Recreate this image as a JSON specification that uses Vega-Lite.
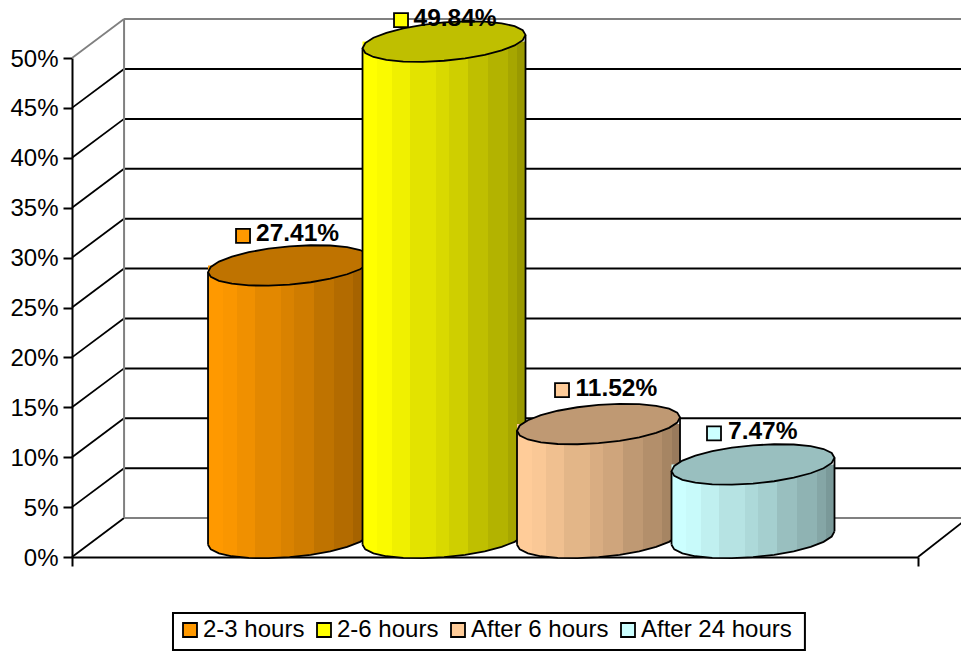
{
  "$schema": "https://vega.github.io/schema/vega-lite/v6.json",
  "width": 846,
  "height": 499,
  "autosize": "none",
  "padding": {"left": 72, "top": 58, "right": 43, "bottom": 94},
  "background": "white",
  "datasets": {
    "cylinders": [
      {"slot": 1, "period": "2-3 hours", "share": 0.2741},
      {"slot": 2, "period": "2-6 hours", "share": 0.4984},
      {"slot": 3, "period": "After 6 hours", "share": 0.1152},
      {"slot": 4, "period": "After 24 hours", "share": 0.0747}
    ],
    "levels": [
      {"level": 0, "back": 0.039, "front_edge": -0.408, "wall": -0.071, "far": 5.39},
      {"level": 0.05, "back": 0.089, "front_edge": -0.408, "wall": -0.071, "far": 5.39},
      {"level": 0.1, "back": 0.139, "front_edge": -0.408, "wall": -0.071, "far": 5.39},
      {"level": 0.15, "back": 0.189, "front_edge": -0.408, "wall": -0.071, "far": 5.39},
      {"level": 0.2, "back": 0.239, "front_edge": -0.408, "wall": -0.071, "far": 5.39},
      {"level": 0.25, "back": 0.289, "front_edge": -0.408, "wall": -0.071, "far": 5.39},
      {"level": 0.3, "back": 0.339, "front_edge": -0.408, "wall": -0.071, "far": 5.39},
      {"level": 0.35, "back": 0.389, "front_edge": -0.408, "wall": -0.071, "far": 5.39},
      {"level": 0.4, "back": 0.439, "front_edge": -0.408, "wall": -0.071, "far": 5.39},
      {"level": 0.45, "back": 0.489, "front_edge": -0.408, "wall": -0.071, "far": 5.39},
      {"level": 0.5, "back": 0.539, "front_edge": -0.408, "wall": -0.071, "far": 5.39}
    ],
    "corners": [
      {"low": 0.039, "high": 0.539, "wall": -0.071, "floor_front": 0, "floor_back": 0.039, "right_front": 5.068, "right_back": 5.39}
    ],
    "legend_frame": [
      {"left": 0.2457, "right": 4.336, "upper": -0.0561, "lower": -0.0932}
    ]
  },
  "config": {"font": "Liberation Sans", "view": {"stroke": null}},
  "layer": [
    {
      "data": {"name": "levels"},
      "mark": {"type": "rule", "strokeWidth": 1.8},
      "encoding": {
        "x": {"field": "front_edge", "type": "quantitative", "scale": {"domain": [-0.408, 5.068], "nice": false, "zero": false, "padding": 0},
          "axis": {"title": null, "values": [-0.408, 5.068], "labels": false, "grid": false, "domainColor": "black", "domainWidth": 2, "tickColor": "black", "tickWidth": 2, "tickSize": 9}},
        "x2": {"field": "wall"},
        "y": {"field": "level", "type": "quantitative", "scale": {"domain": [0, 0.5], "nice": false},
          "axis": {"title": null, "values": [0, 0.05, 0.1, 0.15, 0.2, 0.25, 0.3, 0.35, 0.4, 0.45, 0.5], "format": ".0%", "grid": false, "domainColor": "black", "domainWidth": 2, "tickColor": "black", "tickWidth": 2, "tickSize": 9, "labelColor": "black", "labelFontSize": 24, "labelPadding": 5, "labelOffset": 1, "labelFont": "Liberation Sans"}},
        "y2": {"field": "back"},
        "color": {"condition": {"test": "datum.level === 0.5", "value": "#808080"}, "value": "black"}
      }
    },
    {
      "data": {"name": "levels"},
      "mark": {"type": "rule", "strokeWidth": 2},
      "encoding": {
        "x": {"field": "wall", "type": "quantitative"},
        "x2": {"field": "far"},
        "y": {"field": "back", "type": "quantitative"},
        "color": {"condition": {"test": "datum.level === 0.5 || datum.level === 0", "value": "#808080"}, "value": "black"}
      }
    },
    {
      "data": {"name": "corners"},
      "mark": {"type": "rule", "strokeWidth": 2, "color": "#808080"},
      "encoding": {"x": {"field": "wall", "type": "quantitative"}, "y": {"field": "low", "type": "quantitative"}, "y2": {"field": "high"}}
    },
    {
      "data": {"name": "corners"},
      "mark": {"type": "rule", "strokeWidth": 1.8, "color": "black"},
      "encoding": {"x": {"field": "right_front", "type": "quantitative"}, "x2": {"field": "right_back"}, "y": {"field": "floor_front", "type": "quantitative"}, "y2": {"field": "floor_back"}}
    },
    {
      "data": {"name": "legend_frame"},
      "mark": {"type": "rect", "fill": "white", "stroke": "black", "strokeWidth": 2},
      "encoding": {"x": {"field": "left", "type": "quantitative"}, "x2": {"field": "right"}, "y": {"field": "upper", "type": "quantitative"}, "y2": {"field": "lower"}}
    },
    {
      "data": {"name": "cylinders"},
      "transform": [{"filter": "datum.slot === 1"}],
      "encoding": {"x": {"field": "slot", "type": "quantitative"}, "y": {"field": "share", "type": "quantitative"}},
      "layer": [
        {"mark": {"type": "point", "fill": {"gradient": "linear", "x1": 0, "x2": 1, "y1": 0, "y2": 0, "stops": [
          {"offset": 0, "color": "#ff9900"}, {"offset": 0.09, "color": "#ff9900"}, {"offset": 0.09, "color": "#fa9600"}, {"offset": 0.18, "color": "#fa9600"},
          {"offset": 0.18, "color": "#f09000"}, {"offset": 0.29, "color": "#f09000"}, {"offset": 0.29, "color": "#e38800"}, {"offset": 0.45, "color": "#e38800"},
          {"offset": 0.45, "color": "#d98200"}, {"offset": 0.53, "color": "#d98200"}, {"offset": 0.53, "color": "#cf7c00"}, {"offset": 0.65, "color": "#cf7c00"},
          {"offset": 0.65, "color": "#bf7300"}, {"offset": 0.77, "color": "#bf7300"}, {"offset": 0.77, "color": "#b36b00"}, {"offset": 0.89, "color": "#b36b00"},
          {"offset": 0.89, "color": "#a66300"}, {"offset": 0.95, "color": "#a66300"}, {"offset": 0.95, "color": "#995c00"}, {"offset": 1, "color": "#995c00"}
        ]}, "filled": true, "opacity": 1, "size": 26569, "yOffset": -19, "shape": "M1 -0.082 L0.966 -0.018 L0.866 0.047 L0.707 0.108 L0.5 0.163 L0.259 0.206 L0 0.235 L-0.259 0.248 L-0.5 0.245 L-0.707 0.224 L-0.866 0.189 L-0.966 0.14 L-1 0.082 L-1 -0.13 L1 -0.13 Z"}, "encoding": {"y": {"datum": 0, "type": "quantitative"}}},
        {"mark": {"type": "bar", "fill": {"gradient": "linear", "x1": 0, "x2": 1, "y1": 0, "y2": 0, "stops": [
          {"offset": 0, "color": "#ff9900"}, {"offset": 0.09, "color": "#ff9900"}, {"offset": 0.09, "color": "#fa9600"}, {"offset": 0.18, "color": "#fa9600"},
          {"offset": 0.18, "color": "#f09000"}, {"offset": 0.29, "color": "#f09000"}, {"offset": 0.29, "color": "#e38800"}, {"offset": 0.45, "color": "#e38800"},
          {"offset": 0.45, "color": "#d98200"}, {"offset": 0.53, "color": "#d98200"}, {"offset": 0.53, "color": "#cf7c00"}, {"offset": 0.65, "color": "#cf7c00"},
          {"offset": 0.65, "color": "#bf7300"}, {"offset": 0.77, "color": "#bf7300"}, {"offset": 0.77, "color": "#b36b00"}, {"offset": 0.89, "color": "#b36b00"},
          {"offset": 0.89, "color": "#a66300"}, {"offset": 0.95, "color": "#a66300"}, {"offset": 0.95, "color": "#995c00"}, {"offset": 1, "color": "#995c00"}
        ]}, "orient": "vertical", "width": 163, "yOffset": -18, "y2Offset": -25.7}, "encoding": {"y2": {"datum": 0}}},
        {"mark": {"type": "point", "filled": false, "opacity": 1, "stroke": "black", "strokeWidth": 1.8, "size": 26569, "yOffset": -19, "shape": "M1 -0.082 L0.966 -0.018 L0.866 0.047 L0.707 0.108 L0.5 0.163 L0.259 0.206 L0 0.235 L-0.259 0.248 L-0.5 0.245 L-0.707 0.224 L-0.866 0.189 L-0.966 0.14 L-1 0.082"}, "encoding": {"y": {"datum": 0, "type": "quantitative"}}},
        {"mark": {"type": "rule", "color": "black", "strokeWidth": 1.8, "xOffset": -81.5, "yOffset": -11.3, "y2Offset": -12.3}, "encoding": {"y2": {"datum": 0}}},
        {"mark": {"type": "rule", "color": "black", "strokeWidth": 1.8, "xOffset": 81.5, "yOffset": -24.7, "y2Offset": -25.7}, "encoding": {"y2": {"datum": 0}}},
        {"mark": {"type": "point", "filled": true, "opacity": 1, "fill": "#bf7300", "stroke": "black", "strokeWidth": 1.8, "size": 26569, "yOffset": -18, "shape": "M1 -0.082 L0.966 -0.018 L0.866 0.047 L0.707 0.108 L0.5 0.163 L0.259 0.206 L0 0.235 L-0.259 0.248 L-0.5 0.245 L-0.707 0.224 L-0.866 0.189 L-0.966 0.14 L-1 0.082 L-0.966 0.018 L-0.866 -0.047 L-0.707 -0.108 L-0.5 -0.163 L-0.259 -0.206 L0 -0.235 L0.259 -0.248 L0.5 -0.245 L0.707 -0.224 L0.866 -0.189 L0.966 -0.14 Z"}},
        {"mark": {"type": "point", "shape": "square", "filled": true, "opacity": 1, "size": 196, "stroke": "black", "strokeWidth": 1.8, "xOffset": -46.5, "yOffset": -47.5},
          "encoding": {"color": {"field": "period", "type": "nominal", "scale": {"domain": ["2-3 hours", "2-6 hours", "After 6 hours", "After 24 hours"], "range": ["#ff9900", "#ffff00", "#ffcc99", "#ccffff"]},
            "legend": {"orient": "none", "legendX": 101, "legendY": 555, "direction": "horizontal", "columns": 4, "title": null, "symbolType": "square", "symbolSize": 196, "symbolStrokeColor": "black", "symbolStrokeWidth": 1.8, "labelFontSize": 24, "labelFont": "Liberation Sans", "labelColor": "black", "padding": 5, "columnPadding": 7, "labelOffset": 1}}}},
        {"mark": {"type": "text", "fontWeight": "bold", "fontSize": 24.5, "align": "left", "color": "black", "dx": -33.5, "dy": -49}, "encoding": {"text": {"field": "share", "format": ".2%"}}}
      ]
    },
    {
      "data": {"name": "cylinders"},
      "transform": [{"filter": "datum.slot === 2"}],
      "encoding": {"x": {"field": "slot", "type": "quantitative"}, "y": {"field": "share", "type": "quantitative"}},
      "layer": [
        {"mark": {"type": "point", "fill": {"gradient": "linear", "x1": 0, "x2": 1, "y1": 0, "y2": 0, "stops": [
          {"offset": 0, "color": "#ffff00"}, {"offset": 0.09, "color": "#ffff00"}, {"offset": 0.09, "color": "#fafa00"}, {"offset": 0.18, "color": "#fafa00"},
          {"offset": 0.18, "color": "#f0f000"}, {"offset": 0.29, "color": "#f0f000"}, {"offset": 0.29, "color": "#e3e300"}, {"offset": 0.45, "color": "#e3e300"},
          {"offset": 0.45, "color": "#d9d900"}, {"offset": 0.53, "color": "#d9d900"}, {"offset": 0.53, "color": "#cfcf00"}, {"offset": 0.65, "color": "#cfcf00"},
          {"offset": 0.65, "color": "#bfbf00"}, {"offset": 0.77, "color": "#bfbf00"}, {"offset": 0.77, "color": "#b3b300"}, {"offset": 0.89, "color": "#b3b300"},
          {"offset": 0.89, "color": "#a6a600"}, {"offset": 0.95, "color": "#a6a600"}, {"offset": 0.95, "color": "#999900"}, {"offset": 1, "color": "#999900"}
        ]}, "filled": true, "opacity": 1, "size": 26569, "yOffset": -19, "shape": "M1 -0.082 L0.966 -0.018 L0.866 0.047 L0.707 0.108 L0.5 0.163 L0.259 0.206 L0 0.235 L-0.259 0.248 L-0.5 0.245 L-0.707 0.224 L-0.866 0.189 L-0.966 0.14 L-1 0.082 L-1 -0.13 L1 -0.13 Z"}, "encoding": {"y": {"datum": 0, "type": "quantitative"}}},
        {"mark": {"type": "bar", "fill": {"gradient": "linear", "x1": 0, "x2": 1, "y1": 0, "y2": 0, "stops": [
          {"offset": 0, "color": "#ffff00"}, {"offset": 0.09, "color": "#ffff00"}, {"offset": 0.09, "color": "#fafa00"}, {"offset": 0.18, "color": "#fafa00"},
          {"offset": 0.18, "color": "#f0f000"}, {"offset": 0.29, "color": "#f0f000"}, {"offset": 0.29, "color": "#e3e300"}, {"offset": 0.45, "color": "#e3e300"},
          {"offset": 0.45, "color": "#d9d900"}, {"offset": 0.53, "color": "#d9d900"}, {"offset": 0.53, "color": "#cfcf00"}, {"offset": 0.65, "color": "#cfcf00"},
          {"offset": 0.65, "color": "#bfbf00"}, {"offset": 0.77, "color": "#bfbf00"}, {"offset": 0.77, "color": "#b3b300"}, {"offset": 0.89, "color": "#b3b300"},
          {"offset": 0.89, "color": "#a6a600"}, {"offset": 0.95, "color": "#a6a600"}, {"offset": 0.95, "color": "#999900"}, {"offset": 1, "color": "#999900"}
        ]}, "orient": "vertical", "width": 163, "yOffset": -18, "y2Offset": -25.7}, "encoding": {"y2": {"datum": 0}}},
        {"mark": {"type": "point", "filled": false, "opacity": 1, "stroke": "black", "strokeWidth": 1.8, "size": 26569, "yOffset": -19, "shape": "M1 -0.082 L0.966 -0.018 L0.866 0.047 L0.707 0.108 L0.5 0.163 L0.259 0.206 L0 0.235 L-0.259 0.248 L-0.5 0.245 L-0.707 0.224 L-0.866 0.189 L-0.966 0.14 L-1 0.082"}, "encoding": {"y": {"datum": 0, "type": "quantitative"}}},
        {"mark": {"type": "rule", "color": "black", "strokeWidth": 1.8, "xOffset": -81.5, "yOffset": -11.3, "y2Offset": -12.3}, "encoding": {"y2": {"datum": 0}}},
        {"mark": {"type": "rule", "color": "black", "strokeWidth": 1.8, "xOffset": 81.5, "yOffset": -24.7, "y2Offset": -25.7}, "encoding": {"y2": {"datum": 0}}},
        {"mark": {"type": "point", "filled": true, "opacity": 1, "fill": "#bfbf00", "stroke": "black", "strokeWidth": 1.8, "size": 26569, "yOffset": -18, "shape": "M1 -0.082 L0.966 -0.018 L0.866 0.047 L0.707 0.108 L0.5 0.163 L0.259 0.206 L0 0.235 L-0.259 0.248 L-0.5 0.245 L-0.707 0.224 L-0.866 0.189 L-0.966 0.14 L-1 0.082 L-0.966 0.018 L-0.866 -0.047 L-0.707 -0.108 L-0.5 -0.163 L-0.259 -0.206 L0 -0.235 L0.259 -0.248 L0.5 -0.245 L0.707 -0.224 L0.866 -0.189 L0.966 -0.14 Z"}},
        {"mark": {"type": "point", "shape": "square", "filled": true, "opacity": 1, "size": 196, "stroke": "black", "strokeWidth": 1.8, "xOffset": -43, "yOffset": -39.5},
          "encoding": {"color": {"field": "period", "type": "nominal"}}},
        {"mark": {"type": "text", "fontWeight": "bold", "fontSize": 24.5, "align": "left", "color": "black", "dx": -30.5, "dy": -41}, "encoding": {"text": {"field": "share", "format": ".2%"}}}
      ]
    },
    {
      "data": {"name": "cylinders"},
      "transform": [{"filter": "datum.slot === 3"}],
      "encoding": {"x": {"field": "slot", "type": "quantitative"}, "y": {"field": "share", "type": "quantitative"}},
      "layer": [
        {"mark": {"type": "point", "fill": {"gradient": "linear", "x1": 0, "x2": 1, "y1": 0, "y2": 0, "stops": [
          {"offset": 0, "color": "#ffcc99"}, {"offset": 0.09, "color": "#ffcc99"}, {"offset": 0.09, "color": "#fac896"}, {"offset": 0.18, "color": "#fac896"},
          {"offset": 0.18, "color": "#f0c090"}, {"offset": 0.29, "color": "#f0c090"}, {"offset": 0.29, "color": "#e3b688"}, {"offset": 0.45, "color": "#e3b688"},
          {"offset": 0.45, "color": "#d9ad82"}, {"offset": 0.53, "color": "#d9ad82"}, {"offset": 0.53, "color": "#cfa57c"}, {"offset": 0.65, "color": "#cfa57c"},
          {"offset": 0.65, "color": "#bf9973"}, {"offset": 0.77, "color": "#bf9973"}, {"offset": 0.77, "color": "#b38f6b"}, {"offset": 0.89, "color": "#b38f6b"},
          {"offset": 0.89, "color": "#a68563"}, {"offset": 0.95, "color": "#a68563"}, {"offset": 0.95, "color": "#997a5c"}, {"offset": 1, "color": "#997a5c"}
        ]}, "filled": true, "opacity": 1, "size": 26569, "yOffset": -19, "shape": "M1 -0.082 L0.966 -0.018 L0.866 0.047 L0.707 0.108 L0.5 0.163 L0.259 0.206 L0 0.235 L-0.259 0.248 L-0.5 0.245 L-0.707 0.224 L-0.866 0.189 L-0.966 0.14 L-1 0.082 L-1 -0.13 L1 -0.13 Z"}, "encoding": {"y": {"datum": 0, "type": "quantitative"}}},
        {"mark": {"type": "bar", "fill": {"gradient": "linear", "x1": 0, "x2": 1, "y1": 0, "y2": 0, "stops": [
          {"offset": 0, "color": "#ffcc99"}, {"offset": 0.09, "color": "#ffcc99"}, {"offset": 0.09, "color": "#fac896"}, {"offset": 0.18, "color": "#fac896"},
          {"offset": 0.18, "color": "#f0c090"}, {"offset": 0.29, "color": "#f0c090"}, {"offset": 0.29, "color": "#e3b688"}, {"offset": 0.45, "color": "#e3b688"},
          {"offset": 0.45, "color": "#d9ad82"}, {"offset": 0.53, "color": "#d9ad82"}, {"offset": 0.53, "color": "#cfa57c"}, {"offset": 0.65, "color": "#cfa57c"},
          {"offset": 0.65, "color": "#bf9973"}, {"offset": 0.77, "color": "#bf9973"}, {"offset": 0.77, "color": "#b38f6b"}, {"offset": 0.89, "color": "#b38f6b"},
          {"offset": 0.89, "color": "#a68563"}, {"offset": 0.95, "color": "#a68563"}, {"offset": 0.95, "color": "#997a5c"}, {"offset": 1, "color": "#997a5c"}
        ]}, "orient": "vertical", "width": 163, "yOffset": -18, "y2Offset": -25.7}, "encoding": {"y2": {"datum": 0}}},
        {"mark": {"type": "point", "filled": false, "opacity": 1, "stroke": "black", "strokeWidth": 1.8, "size": 26569, "yOffset": -19, "shape": "M1 -0.082 L0.966 -0.018 L0.866 0.047 L0.707 0.108 L0.5 0.163 L0.259 0.206 L0 0.235 L-0.259 0.248 L-0.5 0.245 L-0.707 0.224 L-0.866 0.189 L-0.966 0.14 L-1 0.082"}, "encoding": {"y": {"datum": 0, "type": "quantitative"}}},
        {"mark": {"type": "rule", "color": "black", "strokeWidth": 1.8, "xOffset": -81.5, "yOffset": -11.3, "y2Offset": -12.3}, "encoding": {"y2": {"datum": 0}}},
        {"mark": {"type": "rule", "color": "black", "strokeWidth": 1.8, "xOffset": 81.5, "yOffset": -24.7, "y2Offset": -25.7}, "encoding": {"y2": {"datum": 0}}},
        {"mark": {"type": "point", "filled": true, "opacity": 1, "fill": "#bf9973", "stroke": "black", "strokeWidth": 1.8, "size": 26569, "yOffset": -18, "shape": "M1 -0.082 L0.966 -0.018 L0.866 0.047 L0.707 0.108 L0.5 0.163 L0.259 0.206 L0 0.235 L-0.259 0.248 L-0.5 0.245 L-0.707 0.224 L-0.866 0.189 L-0.966 0.14 L-1 0.082 L-0.966 0.018 L-0.866 -0.047 L-0.707 -0.108 L-0.5 -0.163 L-0.259 -0.206 L0 -0.235 L0.259 -0.248 L0.5 -0.245 L0.707 -0.224 L0.866 -0.189 L0.966 -0.14 Z"}},
        {"mark": {"type": "point", "shape": "square", "filled": true, "opacity": 1, "size": 196, "stroke": "black", "strokeWidth": 1.8, "xOffset": -36.5, "yOffset": -52},
          "encoding": {"color": {"field": "period", "type": "nominal"}}},
        {"mark": {"type": "text", "fontWeight": "bold", "fontSize": 24.5, "align": "left", "color": "black", "dx": -23, "dy": -53}, "encoding": {"text": {"field": "share", "format": ".2%"}}}
      ]
    },
    {
      "data": {"name": "cylinders"},
      "transform": [{"filter": "datum.slot === 4"}],
      "encoding": {"x": {"field": "slot", "type": "quantitative"}, "y": {"field": "share", "type": "quantitative"}},
      "layer": [
        {"mark": {"type": "point", "fill": {"gradient": "linear", "x1": 0, "x2": 1, "y1": 0, "y2": 0, "stops": [
          {"offset": 0, "color": "#ccffff"}, {"offset": 0.09, "color": "#ccffff"}, {"offset": 0.09, "color": "#c8fafa"}, {"offset": 0.18, "color": "#c8fafa"},
          {"offset": 0.18, "color": "#c0f0f0"}, {"offset": 0.29, "color": "#c0f0f0"}, {"offset": 0.29, "color": "#b6e3e3"}, {"offset": 0.45, "color": "#b6e3e3"},
          {"offset": 0.45, "color": "#add9d9"}, {"offset": 0.53, "color": "#add9d9"}, {"offset": 0.53, "color": "#a5cfcf"}, {"offset": 0.65, "color": "#a5cfcf"},
          {"offset": 0.65, "color": "#99bfbf"}, {"offset": 0.77, "color": "#99bfbf"}, {"offset": 0.77, "color": "#8fb3b3"}, {"offset": 0.89, "color": "#8fb3b3"},
          {"offset": 0.89, "color": "#85a6a6"}, {"offset": 0.95, "color": "#85a6a6"}, {"offset": 0.95, "color": "#7a9999"}, {"offset": 1, "color": "#7a9999"}
        ]}, "filled": true, "opacity": 1, "size": 26569, "yOffset": -19, "shape": "M1 -0.082 L0.966 -0.018 L0.866 0.047 L0.707 0.108 L0.5 0.163 L0.259 0.206 L0 0.235 L-0.259 0.248 L-0.5 0.245 L-0.707 0.224 L-0.866 0.189 L-0.966 0.14 L-1 0.082 L-1 -0.13 L1 -0.13 Z"}, "encoding": {"y": {"datum": 0, "type": "quantitative"}}},
        {"mark": {"type": "bar", "fill": {"gradient": "linear", "x1": 0, "x2": 1, "y1": 0, "y2": 0, "stops": [
          {"offset": 0, "color": "#ccffff"}, {"offset": 0.09, "color": "#ccffff"}, {"offset": 0.09, "color": "#c8fafa"}, {"offset": 0.18, "color": "#c8fafa"},
          {"offset": 0.18, "color": "#c0f0f0"}, {"offset": 0.29, "color": "#c0f0f0"}, {"offset": 0.29, "color": "#b6e3e3"}, {"offset": 0.45, "color": "#b6e3e3"},
          {"offset": 0.45, "color": "#add9d9"}, {"offset": 0.53, "color": "#add9d9"}, {"offset": 0.53, "color": "#a5cfcf"}, {"offset": 0.65, "color": "#a5cfcf"},
          {"offset": 0.65, "color": "#99bfbf"}, {"offset": 0.77, "color": "#99bfbf"}, {"offset": 0.77, "color": "#8fb3b3"}, {"offset": 0.89, "color": "#8fb3b3"},
          {"offset": 0.89, "color": "#85a6a6"}, {"offset": 0.95, "color": "#85a6a6"}, {"offset": 0.95, "color": "#7a9999"}, {"offset": 1, "color": "#7a9999"}
        ]}, "orient": "vertical", "width": 163, "yOffset": -18, "y2Offset": -25.7}, "encoding": {"y2": {"datum": 0}}},
        {"mark": {"type": "point", "filled": false, "opacity": 1, "stroke": "black", "strokeWidth": 1.8, "size": 26569, "yOffset": -19, "shape": "M1 -0.082 L0.966 -0.018 L0.866 0.047 L0.707 0.108 L0.5 0.163 L0.259 0.206 L0 0.235 L-0.259 0.248 L-0.5 0.245 L-0.707 0.224 L-0.866 0.189 L-0.966 0.14 L-1 0.082"}, "encoding": {"y": {"datum": 0, "type": "quantitative"}}},
        {"mark": {"type": "rule", "color": "black", "strokeWidth": 1.8, "xOffset": -81.5, "yOffset": -11.3, "y2Offset": -12.3}, "encoding": {"y2": {"datum": 0}}},
        {"mark": {"type": "rule", "color": "black", "strokeWidth": 1.8, "xOffset": 81.5, "yOffset": -24.7, "y2Offset": -25.7}, "encoding": {"y2": {"datum": 0}}},
        {"mark": {"type": "point", "filled": true, "opacity": 1, "fill": "#99bfbf", "stroke": "black", "strokeWidth": 1.8, "size": 26569, "yOffset": -18, "shape": "M1 -0.082 L0.966 -0.018 L0.866 0.047 L0.707 0.108 L0.5 0.163 L0.259 0.206 L0 0.235 L-0.259 0.248 L-0.5 0.245 L-0.707 0.224 L-0.866 0.189 L-0.966 0.14 L-1 0.082 L-0.966 0.018 L-0.866 -0.047 L-0.707 -0.108 L-0.5 -0.163 L-0.259 -0.206 L0 -0.235 L0.259 -0.248 L0.5 -0.245 L0.707 -0.224 L0.866 -0.189 L0.966 -0.14 Z"}},
        {"mark": {"type": "point", "shape": "square", "filled": true, "opacity": 1, "size": 196, "stroke": "black", "strokeWidth": 1.8, "xOffset": -39, "yOffset": -49},
          "encoding": {"color": {"field": "period", "type": "nominal"}}},
        {"mark": {"type": "text", "fontWeight": "bold", "fontSize": 24.5, "align": "left", "color": "black", "dx": -25, "dy": -50}, "encoding": {"text": {"field": "share", "format": ".2%"}}}
      ]
    }
  ]
}
